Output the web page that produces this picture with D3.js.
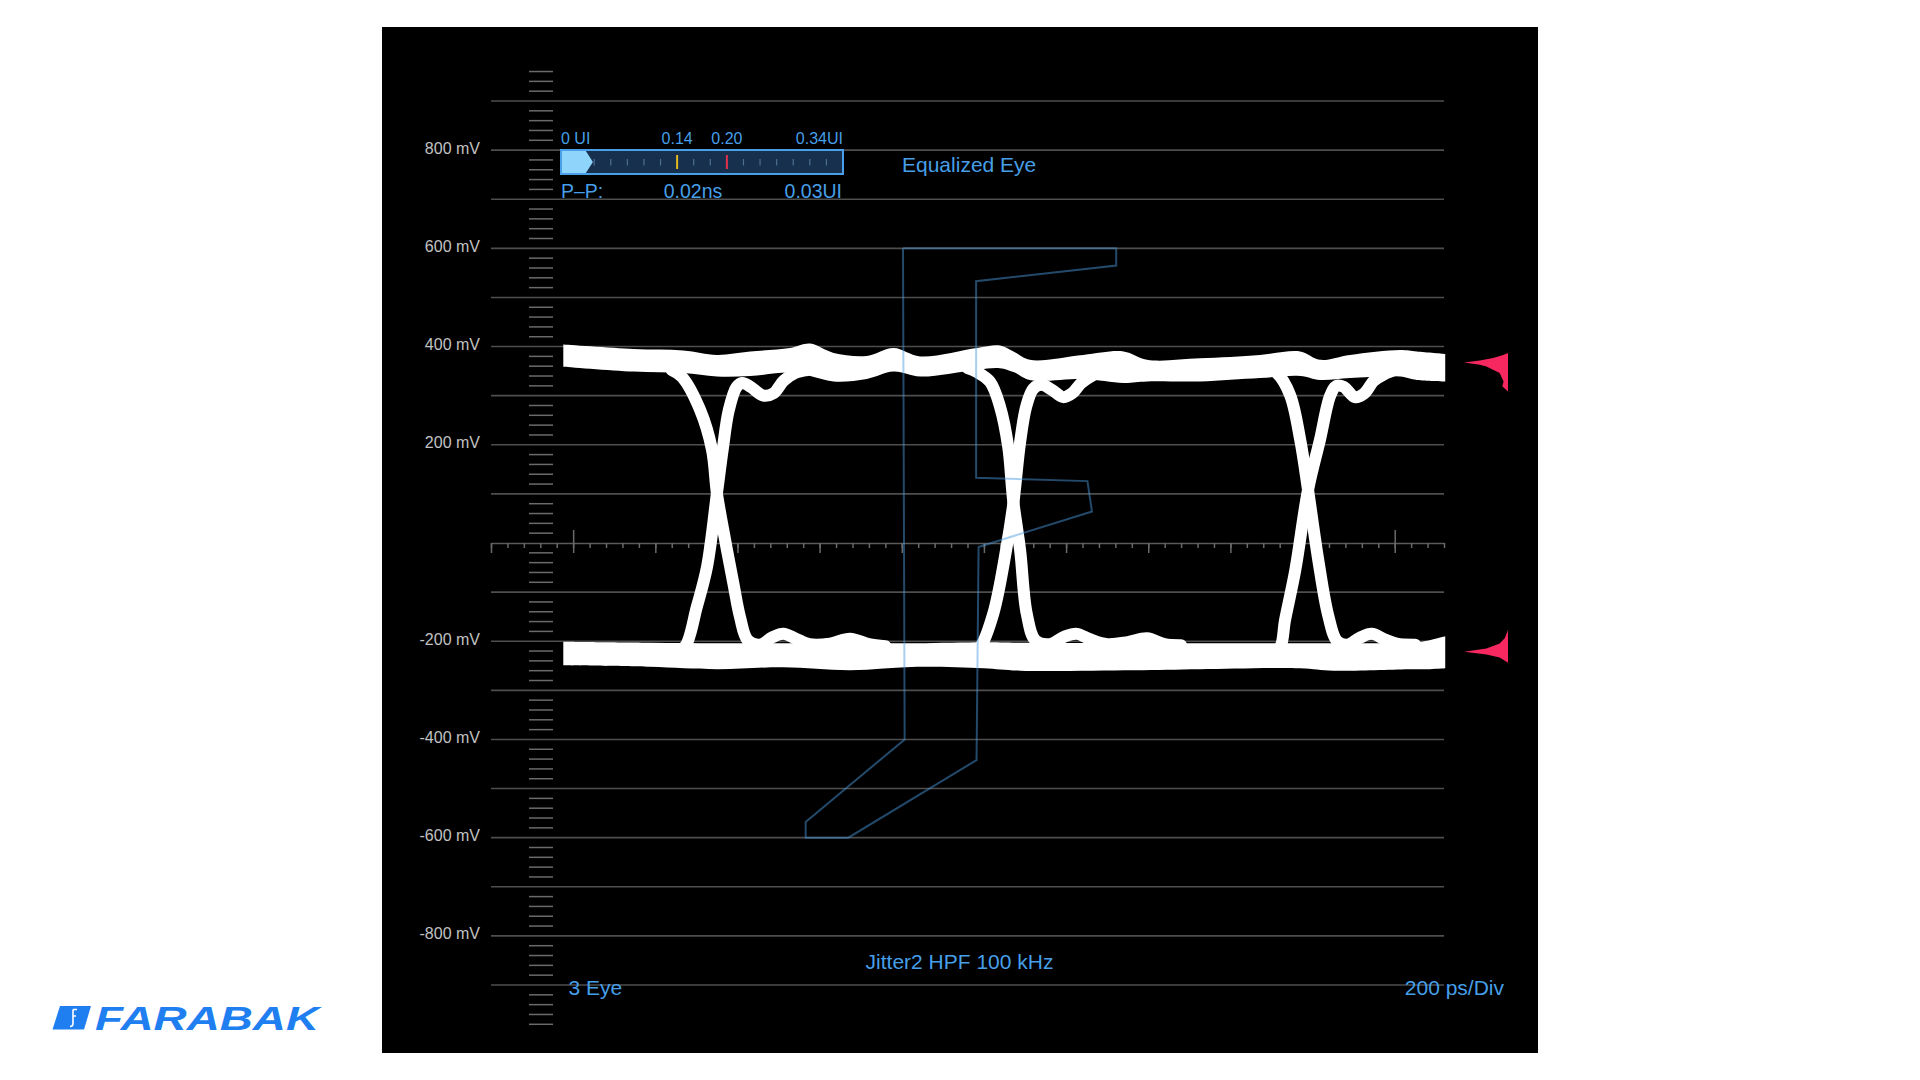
<!DOCTYPE html>
<html><head><meta charset="utf-8">
<script src="https://cdn.jsdelivr.net/npm/d3@7"></script>
<style>
html,body{margin:0;padding:0;background:#fff;}
svg{display:block;}
text{font-family:"Liberation Sans", Arial, Helvetica, sans-serif;}
</style></head><body>
<svg id="c" width="1920" height="1080"></svg>
<script>
// ---------------- DATA ----------------
// vertical grid values (mV) and labelled values
const gridValues = [900, 800, 700, 600, 500, 400, 300, 200, 100, -100, -200, -300, -400, -500, -600, -700, -800, -900];
const yLabelValues = [800, 600, 400, 200, -200, -400, -600, -800];
const yLabelTexts = ["800 mV", "600 mV", "400 mV", "200 mV", "-200 mV", "-400 mV", "-600 mV", "-800 mV"];
// time axis (ps)
const timeDomain = [-200, 2120];
const minorTimeTicks = d3.range(-200, 2121, 40);
const mediumTimeTicks = d3.range(-200, 2121, 200);
const majorTimeTicks = [0, 2000];
// left ruler ticks (mV)
const rulerTicks = d3.range(-980, 961, 20).filter(v => v % 100 !== 0);

// eye rails: [ps, top mV, bottom mV]
const upperRail = [
  [-24, 404, 359], [147, 395, 349], [268, 392, 346], [350, 383, 339], [431, 390, 340],
  [528, 397, 347], [577, 406, 340], [634, 387, 329], [715, 381, 334], [780, 397, 349],
  [845, 380, 339], [983, 397, 353], [1039, 402, 356], [1072, 390, 348], [1112, 373, 332],
  [1242, 383, 334], [1340, 390, 326], [1397, 373, 329], [1526, 376, 329], [1672, 383, 336],
  [1770, 390, 340], [1818, 373, 332], [1891, 383, 336], [2013, 393, 339], [2054, 390, 332],
  [2123, 385, 329]
];
const lowerRail = [
  [-24, -201, -249], [187, -203, -252], [350, -204, -257], [512, -204, -253], [674, -204, -259],
  [837, -204, -252], [999, -202, -255], [1088, -203, -260], [1364, -204, -259], [1526, -204, -257],
  [1770, -204, -255], [1851, -204, -260], [2040, -203, -257], [2079, -199, -257], [2123, -190, -255]
];
// transition traces: [ps, mV]
const fall1 = [[240, 352], [265, 338], [309, 271], [338, 190], [350, 101], [370, 6], [390, -82], [406, -150], [425, -198], [455, -207], [485, -192], [512, -185], [540, -194], [575, -206], [625, -205], [674, -195], [720, -206], [760, -210]];
const rise1 = [[250, -222], [273, -210], [301, -130], [326, -48], [350, 101], [364, 190], [379, 271], [398, 318], [412, 326], [432, 318], [463, 300], [488, 305], [512, 330], [540, 346], [570, 352]];
const fall2 = [[960, 356], [983, 348], [1015, 328], [1039, 278], [1059, 196], [1071, 88], [1088, -14], [1104, -143], [1125, -198], [1160, -206], [1195, -191], [1226, -185], [1258, -196], [1300, -206], [1350, -202], [1397, -194], [1440, -206], [1480, -208]];
const rise2 = [[975, -222], [991, -212], [1023, -143], [1054, -14], [1071, 77], [1088, 205], [1103, 278], [1120, 314], [1140, 322], [1165, 312], [1193, 297], [1215, 305], [1236, 325], [1262, 340], [1290, 350]];
const fall3 = [[1690, 355], [1713, 346], [1745, 302], [1770, 210], [1789, 108], [1814, -35], [1838, -147], [1860, -200], [1885, -207], [1915, -193], [1944, -185], [1975, -196], [2005, -205], [2050, -207]];
const rise3 = [[1700, -222], [1721, -212], [1733, -157], [1758, -55], [1789, 108], [1818, 210], [1843, 300], [1858, 320], [1876, 318], [1903, 297], [1925, 304], [1949, 330], [1975, 344], [2000, 352]];

// jitter trend outline: [ps, mV]
const jitterOutline = [[803, 600], [1322, 600], [1322, 565], [981, 533], [981, 133], [1252, 126], [1263, 64], [987, -8], [982, -442], [670, -600], [566, -600], [566, -568], [807, -400], [803, 600]];

// amplitude histograms: [mV, hits]
const histUpper = [[387, 0], [383, 11], [376.5, 34], [371.7, 64], [367.6, 100], [363, 64], [359.4, 49], [346, 19], [329, 10], [319, 13], [308.5, 0]];
const histLower = [[-177, 0], [-194, 7.5], [-204.5, 19], [-214.7, 49], [-221.6, 100], [-227, 49], [-233, 19], [-244, 0]];

// jitter bar (UI)
const uiDomain = [0, 0.34];
const uiTicks = d3.range(0.04, 0.33, 0.02);
const uiMarkers = [0.14, 0.20];
const uiMarkerColors = ["#e5b81e", "#e0304a"];
const uiTopLabels = ["0 UI", "0.14", "0.20", "0.34UI"];
const uiTopLabelValues = [0, 0.14, 0.20, 0.34];
const ppFillUI = 0.03;
const ppTexts = ["P\u2013P:", "0.02ns", "0.03UI"];

// ---------------- DRAW ----------------
const svg = d3.select("#c");
const blue = "#469fe8";

svg.append("rect").attr("x", 382).attr("y", 27).attr("width", 1156).attr("height", 1026).attr("fill", "#000");

const x = d3.scaleLinear().domain(timeDomain).range([491, 1444]);
const y = d3.scaleLinear().domain([-900, 900]).range([985, 101]);
const ui = d3.scaleLinear().domain(uiDomain).range([561, 843]);
const hx = d3.scaleLinear().domain([0, 100]).range([1508, 1464]);

// gridlines
svg.append("g").selectAll("line").data(gridValues).join("line")
  .attr("x1", x(timeDomain[0])).attr("x2", x(timeDomain[1]))
  .attr("y1", d => y(d)).attr("y2", d => y(d))
  .attr("stroke", "#4e4e4e").attr("stroke-width", 1.6);

// ruler
svg.append("g").selectAll("line").data(rulerTicks).join("line")
  .attr("x1", 529).attr("x2", 553)
  .attr("y1", d => y(d)).attr("y2", d => y(d))
  .attr("stroke", "#6a6a6a").attr("stroke-width", 1.5);

// y labels
svg.append("g").selectAll("text").data(yLabelValues).join("text")
  .attr("x", 480).attr("y", d => y(d)).attr("dy", "0.22em")
  .attr("text-anchor", "end").attr("font-size", 16).attr("fill", "#c2c2c2")
  .text((d, i) => yLabelTexts[i]);

// time axis
function styleAxis(g, keepDomain) {
  g.selectAll("line").attr("stroke", "#6a6a6a").attr("stroke-width", 1.5);
  g.select(".domain").attr("stroke", keepDomain ? "#5a5a5a" : "none").attr("stroke-width", 1.6);
  g.selectAll("text").remove();
}
svg.append("g").attr("transform", `translate(0,${y(0)})`)
  .call(d3.axisBottom(x).tickValues(minorTimeTicks).tickSize(5).tickSizeOuter(0).tickFormat(""))
  .call(g => styleAxis(g, true));
svg.append("g").attr("transform", `translate(0,${y(0)})`)
  .call(d3.axisBottom(x).tickValues(mediumTimeTicks).tickSize(10).tickSizeOuter(0).tickFormat(""))
  .call(g => styleAxis(g, false));
svg.append("g").attr("transform", `translate(0,${y(0)})`)
  .call(d3.axisTop(x).tickValues(majorTimeTicks).tickSize(13).tickSizeOuter(0).tickFormat(""))
  .call(g => styleAxis(g, false));

// eye rails
const area = d3.area().x(d => x(d[0])).y0(d => y(d[2])).y1(d => y(d[1])).curve(d3.curveCatmullRom.alpha(0.5));
svg.append("path").attr("d", area(upperRail)).attr("fill", "#fff");
svg.append("path").attr("d", area(lowerRail)).attr("fill", "#fff");

// transitions
const line = d3.line().x(d => x(d[0])).y(d => y(d[1])).curve(d3.curveCatmullRom.alpha(0.5));
[fall1, rise1, fall2, rise2, fall3, rise3].forEach(tr => {
  svg.append("path").attr("d", line(tr)).attr("fill", "none")
    .attr("stroke", "#fff").attr("stroke-width", 12).attr("stroke-linecap", "round").attr("stroke-linejoin", "round");
});

// jitter outline
svg.append("path").attr("d", d3.line().x(d => x(d[0])).y(d => y(d[1]))(jitterOutline))
  .attr("fill", "none").attr("stroke", "#4a9ae0").attr("stroke-opacity", 0.48).attr("stroke-width", 2);

// histograms
const harea = d3.area().y(d => y(d[0])).x0(hx(0)).x1(d => hx(d[1])).curve(d3.curveLinear);
svg.append("path").attr("d", harea(histUpper)).attr("fill", "#f7285f");
svg.append("path").attr("d", harea(histLower)).attr("fill", "#f7285f");

// jitter bar
svg.append("rect").attr("x", ui(0)).attr("y", 150).attr("width", ui(0.34) - ui(0)).attr("height", 24)
  .attr("fill", "#16304e").attr("stroke", "#4aa0e8").attr("stroke-width", 2);
const fx = ui(ppFillUI);
svg.append("path").attr("d", `M${ui(0) + 1},151 H${fx} L${fx + 7},162 L${fx},173 H${ui(0) + 1} Z`).attr("fill", "#8fd4fb");
svg.append("g").selectAll("line").data(uiTicks).join("line")
  .attr("x1", d => ui(d)).attr("x2", d => ui(d)).attr("y1", 159).attr("y2", 165.5)
  .attr("stroke", "#4f6f92").attr("stroke-width", 1.2);
svg.append("g").selectAll("line").data(uiMarkers).join("line")
  .attr("x1", d => ui(d)).attr("x2", d => ui(d)).attr("y1", 155).attr("y2", 169)
  .attr("stroke", (d, i) => uiMarkerColors[i]).attr("stroke-width", 2);
svg.append("g").selectAll("text").data(uiTopLabelValues).join("text")
  .attr("x", d => ui(d)).attr("y", 144).attr("font-size", 16).attr("fill", blue)
  .attr("text-anchor", (d, i) => i === 0 ? "start" : (i === uiTopLabelValues.length - 1 ? "end" : "middle"))
  .text((d, i) => uiTopLabels[i]);
svg.append("text").attr("x", ui(0)).attr("y", 198).attr("font-size", 19.5).attr("fill", blue).text(ppTexts[0]);
svg.append("text").attr("x", 693).attr("y", 198).attr("font-size", 19.5).attr("fill", blue).attr("text-anchor", "middle").text(ppTexts[1]);
svg.append("text").attr("x", ui(0.34) - 1).attr("y", 198).attr("font-size", 19.5).attr("fill", blue).attr("text-anchor", "end").text(ppTexts[2]);

// captions
svg.append("text").attr("x", 902).attr("y", 172).attr("font-size", 21).attr("fill", blue).text("Equalized Eye");
svg.append("text").attr("x", 959.5).attr("y", 969).attr("font-size", 21).attr("fill", blue).attr("text-anchor", "middle").text("Jitter2 HPF 100 kHz");
svg.append("text").attr("x", 568.5).attr("y", 995).attr("font-size", 21).attr("fill", blue).text("3 Eye");
svg.append("text").attr("x", 1504).attr("y", 995).attr("font-size", 21).attr("fill", blue).attr("text-anchor", "end").text("200 ps/Div");

// logo
const logo = svg.append("g");
logo.append("path").attr("d", "M60,1006 H91 L84,1029.5 H52.5 Z").attr("fill", "#1f7ff0");
logo.append("path").attr("d", "M73,1009.5 h4 M73,1009.5 v14 q0,3 -3,3 M73,1016 h3").attr("stroke", "#fff").attr("stroke-width", 1.6).attr("fill", "none");
logo.append("text").attr("x", 95).attr("y", 1029.5).attr("font-size", 32.5).attr("font-weight", 900)
  .attr("font-style", "italic").attr("fill", "#1f7ff0")
  .attr("textLength", 224).attr("lengthAdjust", "spacingAndGlyphs").text("FARABAK");
</script>
</body></html>
